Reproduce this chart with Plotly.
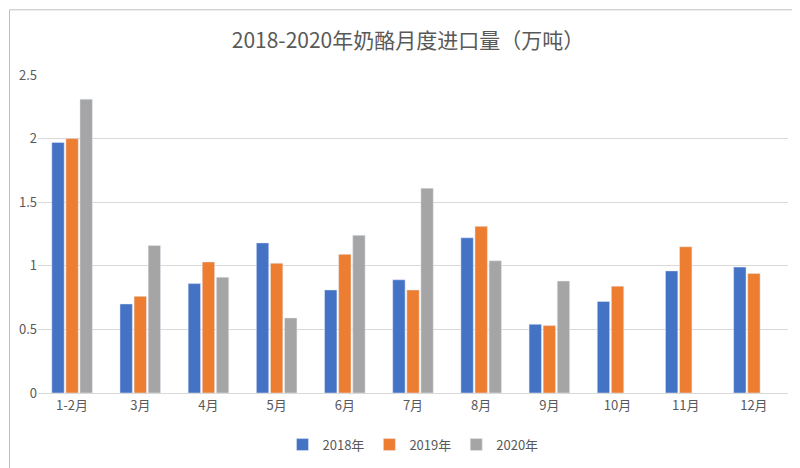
import plotly.graph_objects as go

months = ["1-2月", "3月", "4月", "5月", "6月", "7月", "8月", "9月", "10月", "11月", "12月"]
y2018 = [1.97, 0.70, 0.86, 1.18, 0.81, 0.89, 1.22, 0.54, 0.72, 0.96, 0.99]
y2019 = [2.00, 0.76, 1.03, 1.02, 1.09, 0.81, 1.31, 0.53, 0.84, 1.15, 0.94]
y2020 = [2.31, 1.16, 0.91, 0.59, 1.24, 1.61, 1.04, 0.88, None, None, None]

fig = go.Figure()
fig.add_bar(x=months, y=y2018, name="2018年", marker_color="#4472C4")
fig.add_bar(x=months, y=y2019, name="2019年", marker_color="#ED7D31")
fig.add_bar(x=months, y=y2020, name="2020年", marker_color="#A5A5A5")

fig.update_layout(
    width=800, height=468,
    font=dict(family="Noto Sans CJK SC", color="#595959", size=13),
    title=dict(text="2018-2020年奶酪月度进口量（万吨）", x=0.5, y=0.945,
               font=dict(size=21, color="#595959")),
    barmode="group", bargap=0.38, bargroupgap=0.12,
    plot_bgcolor="white", paper_bgcolor="white",
    margin=dict(l=30, r=20, t=67, b=83, autoexpand=False),
    legend=dict(orientation="h", x=0.5, xanchor="center",
                yref="container", y=0.035, yanchor="bottom",
                font=dict(size=13), itemwidth=30),
    xaxis=dict(showline=True, linecolor="#D9D9D9", ticks=""),
    yaxis=dict(range=[0, 2.5], dtick=0.5, gridcolor="#D9D9D9", zeroline=False,
               tickformat="~g"),
    shapes=[dict(type="rect", xref="paper", yref="paper", x0=-0.038, x1=1.024,
                 y0=-0.255, y1=1.205, line=dict(color="#BFBFBF", width=1))],
)

fig.write_html("out.html")
